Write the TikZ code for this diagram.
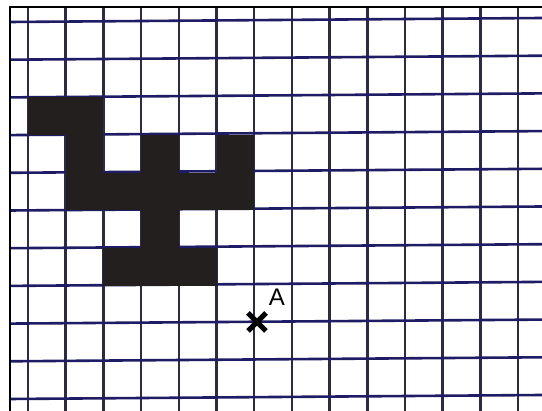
\documentclass[tikz,border=0pt]{standalone}
\usepackage{fontspec}
\setmainfont{Liberation Sans}
\begin{document}
\begin{tikzpicture}[x=1pt,y=-1pt,
  vline/.style={draw={rgb,255:red,45;green,43;blue,65}, line width=2.5pt},
  hline/.style={draw={rgb,255:red,30;green,28;blue,100}, line width=2.6pt},
  cell/.style={fill={rgb,255:red,35;green,31;blue,30}},
  border/.style={draw=black, line width=2.5pt},
  cross/.style={draw=black, line width=5pt}]
\useasboundingbox[fill=white] (0,0) rectangle (542,411);
% grid
\foreach \i in {0,...,13} {
  \draw[vline] ({28+37.7*\i},7) -- ({28+37.7*\i},411);
}
\foreach \j in {0,...,10} {
  \draw[hline] (10,{22+37.7*\j}) -- (542,{22+37.7*\j-4});
}
% filled cells (column i, row j)
\foreach \i/\j/\w in {0/2/2, 1/3/1, 3/3/1, 5/3/1, 1/4/5, 3/5/1, 2/6/3} {
  \fill[cell] ({28+37.7*\i},{22+37.7*\j}) rectangle ({28+37.7*(\i+\w)},{22+37.7*(\j+1)});
}
% border
\draw[border] (10,411) -- (10,7) -- (542,7);
% point A
\coordinate (A) at (257,322);
\draw[cross] ([shift={(-9,-9)}]A) -- ([shift={(9,9)}]A);
\draw[cross] ([shift={(-9,9)}]A) -- ([shift={(9,-9)}]A);
\node[font=\fontsize{24}{24}\selectfont, inner sep=0pt] (lblA) at (277,297) {A};
\end{tikzpicture}
\end{document}
